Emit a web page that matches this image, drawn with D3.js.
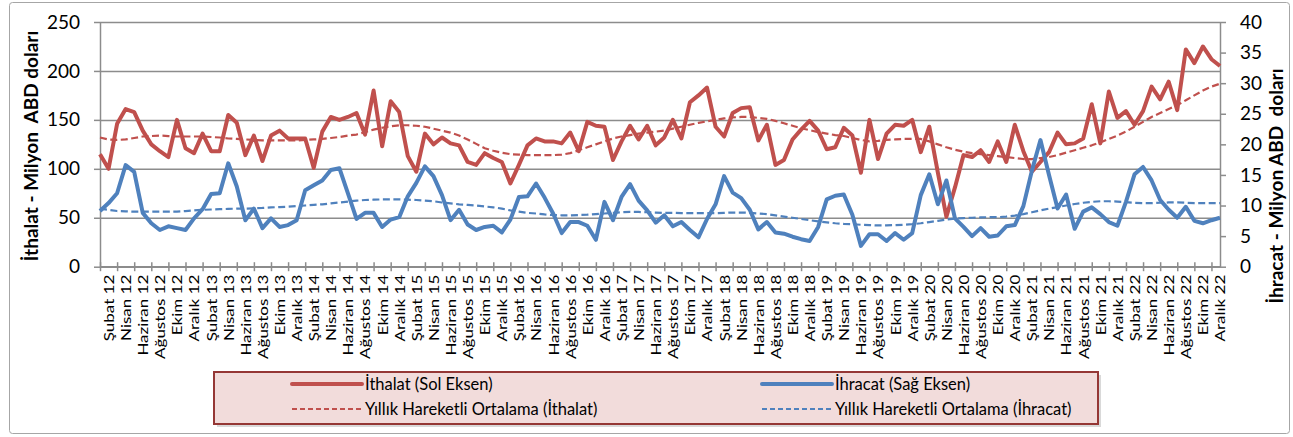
<!DOCTYPE html>
<html>
<head>
<meta charset="utf-8">
<script src="https://cdn.jsdelivr.net/npm/d3@7"></script>
<style>
  body { margin: 0; background: #fff; }
  svg { display: block; font-family: Lato, "Open Sans", sans-serif; }
</style>
</head>
<body>
<div id="chart"></div>
<script>
// months / years for category labels
var monthNames = ['Ocak', 'Şubat', 'Mart', 'Nisan', 'Mayıs', 'Haziran', 'Temmuz', 'Ağustos', 'Eylül', 'Ekim', 'Kasım', 'Aralık'];
var years = ['12', '13', '14', '15', '16', '17', '18', '19', '20', '21', '22'];

// İthalat, left axis, million USD (Ocak 12 .. Aralık 22)
var ithalat = [
    115, 100, 146, 161, 158, 139, 125, 118, 112, 150, 121, 116,
    136, 118, 118, 155, 147, 114, 134, 108, 134, 139, 131, 131,
    131, 101, 138, 153, 150, 153, 157, 135, 180, 123, 169, 158,
    113, 97, 136, 125, 132, 126, 124, 107, 104, 116, 111, 107,
    85, 104, 124, 131, 128, 128, 126, 137, 118, 148, 144, 143,
    109, 128, 144, 130, 144, 124, 132, 150, 131, 168, 175, 183,
    143, 133, 157, 162, 163, 129, 145, 104, 109, 130, 140, 149,
    139, 120, 122, 142, 134, 96, 150, 110, 136, 145, 144, 150,
    117, 143, 96, 51, 81, 114, 112, 119, 107, 128, 107, 145,
    118, 97, 107, 117, 137, 125, 126, 131, 166, 126, 179, 152,
    159, 145, 159, 184, 171, 189, 160, 222, 208, 225, 212, 205
];
// İhracat, right axis, million USD
var ihracat = [
    9.1, 10.4, 12.0, 16.6, 15.5, 8.8, 7.1, 6.0, 6.6, 6.3, 6.0, 7.9,
    9.4, 11.9, 12.0, 16.9, 13.1, 7.6, 9.5, 6.3, 7.9, 6.5, 6.8, 7.6,
    12.5, 13.3, 14.1, 15.8, 16.1, 12.0, 7.8, 8.8, 8.8, 6.5, 7.7, 8.1,
    11.5, 13.7, 16.4, 14.8, 11.7, 7.6, 9.3, 6.9, 6.0, 6.5, 6.7, 5.6,
    7.7, 11.4, 11.5, 13.6, 11.3, 8.7, 5.5, 7.3, 7.3, 6.7, 4.4, 10.6,
    7.6, 11.4, 13.5, 10.8, 9.2, 7.2, 8.4, 6.6, 7.3, 6.0, 4.8, 7.8,
    10.2, 14.8, 12.1, 11.2, 9.3, 6.1, 7.3, 5.6, 5.4, 4.9, 4.5, 4.2,
    6.5, 11.0, 11.6, 11.8, 8.5, 3.4, 5.3, 5.3, 4.2, 5.5, 4.4, 5.5,
    11.7, 15.1, 10.2, 14.1, 7.9, 6.5, 5.0, 6.3, 4.9, 5.1, 6.6, 6.8,
    9.9, 15.7, 20.7, 15.0, 9.5, 11.8, 6.2, 9.0, 9.7, 8.6, 7.3, 6.7,
    10.6, 15.1, 16.3, 14.1, 10.9, 9.3, 8.0, 9.8, 7.5, 7.1, 7.6, 8.0
];
// 12-month moving averages
var ithalatMA = [
    132, 130, 129.5, 130, 131.5, 133, 133.5, 134, 133.5, 133, 133, 133,
    133, 132.5, 132, 131, 130.5, 130, 129.5, 129, 129, 129, 129, 129,
    129.5, 130, 130.5, 131.5, 132.5, 134, 135, 137.5, 140, 142, 143.5, 144.5,
    144.5, 144, 143, 141, 139, 137, 134, 130, 125.5, 121, 118.5, 116.5,
    115, 114.5, 114, 114, 114, 114, 114.5, 116, 119, 122, 125, 128,
    131, 133, 134.5, 136, 137, 138, 139, 141, 143, 145, 147, 148.5,
    150, 151.5, 152.5, 153, 153, 152, 151, 149, 146.5, 144, 141.5, 139.5,
    137.5, 136, 134.5, 133.5, 131.5, 129.5, 128, 128.5, 129.5, 130, 130.5, 130.5,
    130.5, 128, 125, 122, 119.5, 117.5, 116, 115, 114, 113, 112, 111,
    110, 110, 111, 112, 114, 116.5, 119, 121.5, 124, 127, 130.5, 134,
    138, 143, 148, 153, 157, 161, 165, 170, 175, 180, 184, 187
];
var ihracatMA = [
    9.5, 9.3, 9.1, 9.05, 9.0, 9.0, 9.0, 9.0, 9.0, 9.0, 9.1, 9.2,
    9.3, 9.35, 9.4, 9.45, 9.5, 9.5, 9.55, 9.6, 9.7, 9.75, 9.8, 9.9,
    10.0, 10.1, 10.2, 10.35, 10.5, 10.65, 10.8, 10.9, 10.95, 11.0, 11.0, 11.0,
    10.95, 10.9, 10.8, 10.7, 10.5, 10.35, 10.2, 10.1, 10.0, 9.85, 9.7, 9.5,
    9.2, 9.0, 8.8, 8.7, 8.55, 8.45, 8.4, 8.4, 8.45, 8.5, 8.6, 8.7,
    8.8, 8.9, 8.95, 8.95, 8.9, 8.85, 8.8, 8.8, 8.75, 8.75, 8.75, 8.75,
    8.75, 8.8, 8.85, 8.85, 8.8, 8.7, 8.6, 8.4, 8.2, 8.0, 7.8, 7.6,
    7.4, 7.25, 7.1, 7.0, 6.95, 6.85, 6.8, 6.75, 6.75, 6.8, 6.85, 6.95,
    7.1, 7.3, 7.5, 7.7, 7.85, 7.95, 8.0, 8.05, 8.1, 8.1, 8.2, 8.35,
    8.6, 8.9, 9.2, 9.5, 9.75, 10.0, 10.25, 10.45, 10.6, 10.7, 10.7, 10.65,
    10.55, 10.45, 10.4, 10.4, 10.45, 10.5, 10.5, 10.45, 10.4, 10.4, 10.4, 10.4
];
var leftTicks = [0, 50, 100, 150, 200, 250];
var rightTicks = [0, 5, 10, 15, 20, 25, 30, 35, 40];

var red = '#C0504D', blue = '#4F81BD', gridColor = '#8c8c8c';

// category labels "Şubat 12" ...
var categories = [];
years.forEach(function (y) {
    monthNames.forEach(function (m) { categories.push(m + ' ' + y); });
});

var W = 1293, H = 437;
var plot = { left: 100, right: 1220, top: 22, bottom: 266.7 };

var svg = d3.select('#chart').append('svg').attr('width', W).attr('height', H);

// outer chart frame
svg.append('rect').attr('x', 9.5).attr('y', 2.5).attr('width', 1280).attr('height', 431)
    .attr('rx', 3).attr('fill', '#fff').attr('stroke', '#a6a6a6').attr('stroke-width', 1);

var x = d3.scalePoint().domain(d3.range(categories.length)).range([plot.left, plot.right]);
var yL = d3.scaleLinear().domain([0, 250]).range([plot.bottom, plot.top]);
var yR = d3.scaleLinear().domain([0, 40]).range([plot.bottom, plot.top]);

// gridlines
svg.append('g').attr('transform', 'translate(' + plot.left + ',0)')
    .call(d3.axisLeft(yL).tickValues(leftTicks).tickSize(-(plot.right - plot.left)).tickFormat(''))
    .call(function (g) {
        g.select('.domain').remove();
        g.selectAll('line').attr('stroke', gridColor).attr('stroke-width', 1.5);
    });

// left axis
svg.append('g').attr('transform', 'translate(' + plot.left + ',0)')
    .call(d3.axisLeft(yL).tickValues(leftTicks).tickSizeInner(6).tickSizeOuter(0).tickPadding(14))
    .call(function (g) {
        g.select('.domain').attr('stroke', gridColor).attr('stroke-width', 1.5);
        g.selectAll('line').attr('stroke', gridColor).attr('stroke-width', 1.5);
        g.selectAll('text').attr('font-size', 19).attr('fill', '#000').attr('font-family', 'Lato');
    });

// right axis
svg.append('g').attr('transform', 'translate(' + plot.right + ',0)')
    .call(d3.axisRight(yR).tickValues(rightTicks).tickSizeInner(6).tickSizeOuter(0).tickPadding(14))
    .call(function (g) {
        g.select('.domain').attr('stroke', gridColor).attr('stroke-width', 1.5);
        g.selectAll('line').attr('stroke', gridColor).attr('stroke-width', 1.5);
        g.selectAll('text').attr('font-size', 19).attr('fill', '#000').attr('font-family', 'Lato');
    });

// x axis tick marks (every second month, crossing the axis)
var evenIdx = d3.range(0, categories.length, 2);
var oddIdx = d3.range(1, categories.length, 2);
svg.append('g').attr('transform', 'translate(0,' + (plot.bottom - 4.5) + ')')
    .call(d3.axisBottom(x).tickValues(evenIdx).tickSizeInner(9).tickSizeOuter(0).tickFormat(''))
    .call(function (g) {
        g.select('.domain').remove();
        g.selectAll('line').attr('stroke', gridColor).attr('stroke-width', 1.5);
    });
svg.append('line').attr('x1', plot.left).attr('x2', plot.right)
    .attr('y1', plot.bottom).attr('y2', plot.bottom)
    .attr('stroke', gridColor).attr('stroke-width', 1.5);

// x labels, rotated and slightly narrowed
svg.append('g').attr('transform', 'translate(0,' + plot.bottom + ')')
    .call(d3.axisBottom(x).tickValues(oddIdx).tickSize(0).tickFormat(function (i) { return categories[i]; }))
    .call(function (g) {
        g.select('.domain').remove();
        g.selectAll('text')
            .attr('font-size', 17).attr('fill', '#000').attr('font-family', 'Lato')
            .attr('text-anchor', 'end')
            .attr('transform', 'rotate(-90) scale(1,0.82)')
            .attr('x', -8).attr('y', 0).attr('dy', '0.35em');
    });

// lines
function drawLine(values, scale, color, width, dash) {
    var line = d3.line()
        .x(function (d, i) { return x(i); })
        .y(function (d) { return scale(d); });
    svg.append('path').datum(values)
        .attr('d', line)
        .attr('fill', 'none')
        .attr('stroke', color)
        .attr('stroke-width', width)
        .attr('stroke-linejoin', 'round')
        .attr('stroke-dasharray', dash || null);
}
drawLine(ithalat, yL, red, 4);
drawLine(ithalatMA, yL, red, 2.2, '7,3.5');
drawLine(ihracat, yR, blue, 4);
drawLine(ihracatMA, yR, blue, 2.2, '7,3.5');

// axis titles
svg.append('text')
    .attr('transform', 'translate(38,' + 146 + ') rotate(-90)')
    .attr('text-anchor', 'middle').attr('font-weight', 'bold').attr('font-size', 19)
    .style('white-space', 'pre')
    .text('İthalat - Milyon  ABD doları');
svg.append('text')
    .attr('transform', 'translate(1283,' + 186 + ') rotate(-90)')
    .attr('text-anchor', 'middle').attr('font-weight', 'bold').attr('font-size', 19)
    .style('white-space', 'pre')
    .text('İhracat - Milyon ABD  doları');

// legend
var lg = svg.append('g');
lg.append('rect').attr('x', 217).attr('y', 375).attr('width', 884).attr('height', 52)
    .attr('fill', '#bfbfbf').attr('opacity', 0.6);
lg.append('rect').attr('x', 214).attr('y', 372).attr('width', 884).attr('height', 52)
    .attr('fill', '#F2DCDB').attr('stroke', '#953735').attr('stroke-width', 2);

var legendItems = [
    { label: 'İthalat (Sol Eksen)', color: red, width: 4, dash: null, x: 292, y: 384 },
    { label: 'İhracat (Sağ Eksen)', color: blue, width: 4, dash: null, x: 762, y: 384 },
    { label: 'Yıllık Hareketli Ortalama (İthalat)', color: red, width: 2.2, dash: '5,3', x: 292, y: 409 },
    { label: 'Yıllık Hareketli Ortalama (İhracat)', color: blue, width: 2.2, dash: '5,3', x: 762, y: 409 }
];
legendItems.forEach(function (d) {
    lg.append('line').attr('x1', d.x).attr('x2', d.x + 70).attr('y1', d.y).attr('y2', d.y)
        .attr('stroke', d.color).attr('stroke-width', d.width).attr('stroke-dasharray', d.dash)
        .attr('stroke-linecap', d.dash ? 'butt' : 'round');
    lg.append('text').attr('x', d.x + 73).attr('y', d.y).attr('dy', '0.35em')
        .attr('font-size', 16.5).attr('fill', '#000')
        .text(d.label);
});
</script>
</body>
</html>
